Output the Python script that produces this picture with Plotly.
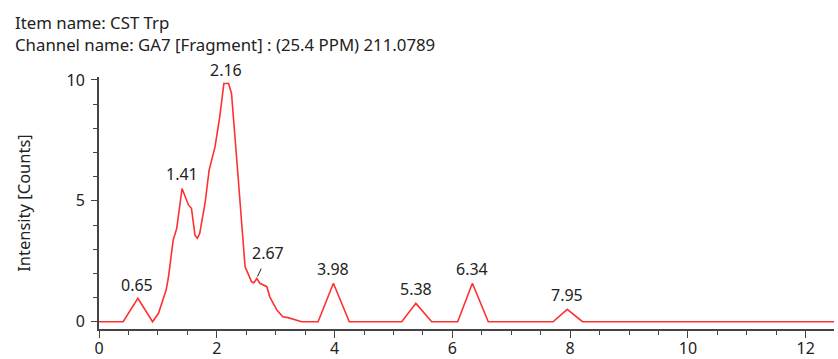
import numpy as np
import plotly.graph_objects as go

# Chromatogram trace (retention time [min], intensity [counts])
rt = [0, 0.41, 0.66, 0.91, 1.01, 1.06, 1.14, 1.18, 1.26, 1.32, 1.41, 1.52, 1.57,
      1.63, 1.67, 1.71, 1.80, 1.87, 1.97, 2.05, 2.12, 2.20, 2.25, 2.34, 2.42,
      2.48, 2.53, 2.59, 2.63, 2.68, 2.73, 2.79, 2.85, 2.90, 3.02, 3.12, 3.21,
      3.44, 3.72, 3.98, 4.25, 5.14, 5.38, 5.65, 6.09, 6.34, 6.61, 7.71, 7.95,
      8.21, 12.48]
intensity = [0, 0, 0.97, 0, 0.35, 0.69, 1.31, 1.86, 3.38, 3.86, 5.51, 4.82, 4.69,
             3.58, 3.45, 3.65, 4.89, 6.27, 7.23, 8.47, 9.85, 9.85, 9.44, 6.68, 3.93,
             2.27, 2.0, 1.65, 1.61, 1.79, 1.59, 1.52, 1.45, 1.03, 0.48, 0.21, 0.17,
             0, 0, 1.59, 0, 0, 0.76, 0, 0, 1.59, 0, 0, 0.51,
             0, 0]

peak_labels = [0.65, 1.41, 2.16, 2.67, 3.98, 5.38, 6.34, 7.95]
leader_peaks = [2.67]

title_lines = ["Item name: CST Trp",
               "Channel name: GA7 [Fragment] : (25.4 PPM) 211.0789"]
y_title = "Intensity [Counts]"

FONT = "Noto Sans"
TXT = "#222222"
AX = "#444444"
FS = 16

fig = go.Figure()
fig.add_trace(go.Scatter(x=rt, y=intensity, mode="lines",
                         line=dict(color="#ff3030", width=1.6),
                         hoverinfo="skip", showlegend=False))

peak_y = np.interp(peak_labels, rt, intensity)
for p, h in zip(peak_labels, peak_y):
    if p in leader_peaks:
        fig.add_annotation(x=p, y=h, text=f"{p:.2f}", showarrow=True,
                           arrowhead=0, arrowwidth=1, arrowcolor=TXT,
                           ax=12, ay=-26, standoff=3, startstandoff=3,
                           font=dict(family=FONT, size=FS, color=TXT))
    else:
        fig.add_annotation(x=p, y=h, text=f"{p:.2f}", showarrow=False,
                           yanchor="bottom", yshift=1,
                           font=dict(family=FONT, size=FS, color=TXT))

for i, t in enumerate(title_lines):
    fig.add_annotation(xref="paper", yref="paper", x=-0.117,
                       y=1.218 - i * 0.091, text=t, showarrow=False,
                       xanchor="left", yanchor="middle",
                       font=dict(family=FONT, size=16.8, color=TXT))

fig.update_layout(
    width=838, height=359,
    margin=dict(l=99, r=4, t=77, b=30),
    paper_bgcolor="white", plot_bgcolor="white",
    font=dict(family=FONT, size=FS, color=TXT),
    xaxis=dict(range=[0, 12.48], dtick=2, tick0=0, showgrid=False,
               zeroline=False, showline=True, linecolor=AX, linewidth=2,
               ticks="outside", ticklen=7, tickwidth=1, tickcolor=AX,
               ticklabelstandoff=-3, automargin=False,
               minor=dict(dtick=0.5, ticks="outside", ticklen=4,
                          tickcolor=AX, tickwidth=1, showgrid=False),
               tickfont=dict(family=FONT, size=FS, color=TXT)),
    yaxis=dict(range=[-0.3, 10.12], dtick=5, tick0=0, showgrid=False,
               zeroline=False, showline=True, linecolor=AX, linewidth=2,
               ticks="outside", ticklen=6, tickwidth=1, tickcolor=AX,
               ticklabelstandoff=3, automargin=False,
               minor=dict(dtick=1, ticks="outside", ticklen=4,
                          tickcolor=AX, tickwidth=1, showgrid=False),
               tickfont=dict(family=FONT, size=FS, color=TXT),
               title=dict(text=y_title, standoff=32,
                          font=dict(family=FONT, size=16.5, color=TXT))),
)

fig.write_html("out.html", config={"displayModeBar": False},
               post_script="document.body.style.margin='0px';")
